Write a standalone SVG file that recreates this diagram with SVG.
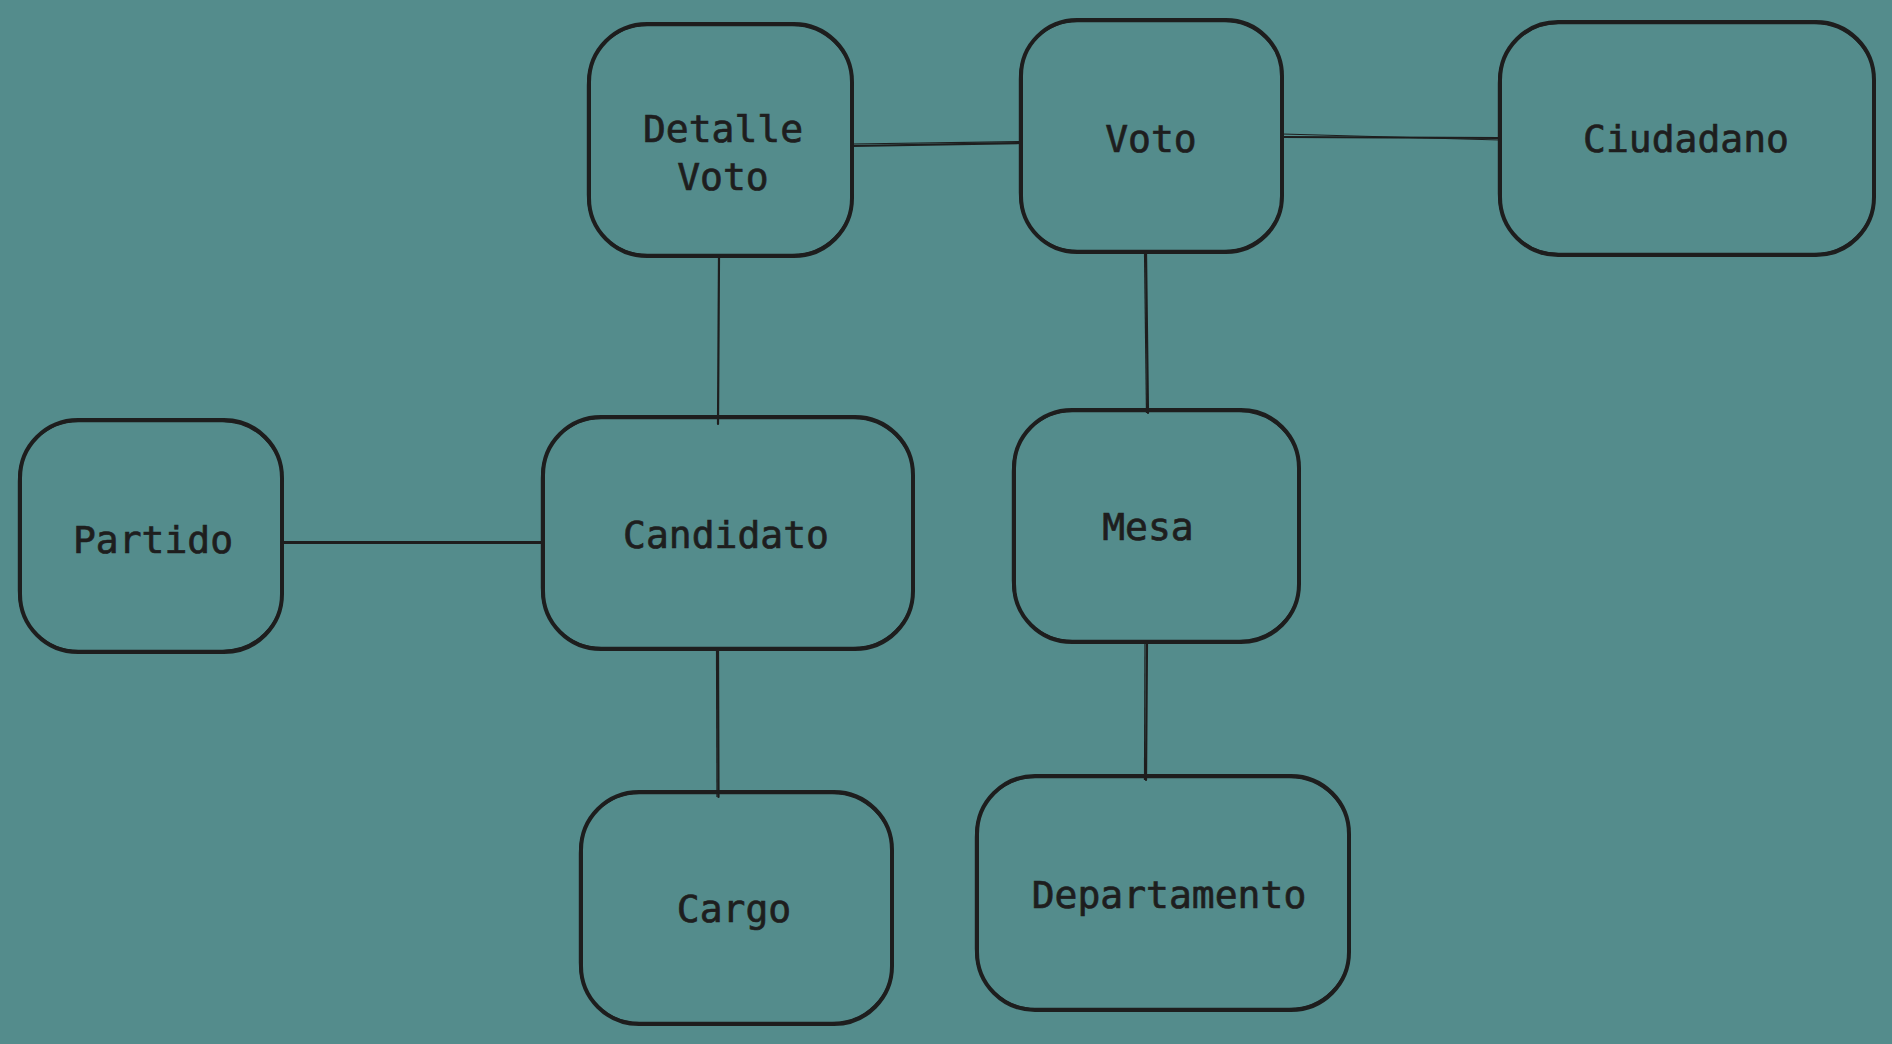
<svg xmlns="http://www.w3.org/2000/svg" width="1892" height="1044" viewBox="0 0 1892 1044">
<style>
.box{fill:none;stroke:#1e1e1e;stroke-width:4;stroke-linejoin:round}
.box2{fill:none;stroke:#1e1e1e;stroke-width:1.4}
.lbl{font-family:"DejaVu Sans Mono","Liberation Mono",monospace;font-size:38px;fill:#1e1e1e;stroke:#1e1e1e;stroke-width:0.7;text-anchor:middle}
.edge{stroke:#1e1e1e;stroke-width:2.2;fill:none;stroke-linecap:round}
.edge2{stroke:#1e1e1e;stroke-width:1.2;fill:none}
</style>
<rect x="0" y="0" width="1892" height="1044" fill="#548c8c"/>
<g id="connectors">
  <path class="edge" d="M852 146 L1022 143"/><path class="edge2" d="M852 144 L1022 141.5"/>
  <path class="edge" d="M1282 137 L1500 138"/><path class="edge2" d="M1282 134 L1500 140"/>
  <path class="edge" d="M719 256 L718 424"/>
  <path class="edge" d="M1146 252 L1148 413"/><path class="edge2" d="M1144.5 252 L1146.5 413"/>
  <path class="edge" d="M282 543 L543 543"/><path class="edge2" d="M280 541.5 L543 541.5"/>
  <path class="edge" d="M718 649 L718.5 797"/><path class="edge2" d="M716.5 649 L717 797"/>
  <path class="edge" d="M1147 642 L1146 780"/><path class="edge2" d="M1145 642 L1144.5 780"/>
</g>
<g id="detalle-voto">
  <rect class="box" x="589" y="24" width="263" height="232" rx="58"/>
  <rect class="box2" x="587.5" y="25.5" width="265" height="229" rx="60"/>
  <text class="lbl" x="723" y="142">Detalle</text>
  <text class="lbl" x="723" y="190">Voto</text>
</g>
<g id="voto">
  <rect class="box" x="1021" y="20" width="261" height="232" rx="56"/>
  <rect class="box2" x="1019.5" y="21.5" width="263" height="229" rx="58"/>
  <text class="lbl" x="1151" y="152">Voto</text>
</g>
<g id="ciudadano">
  <rect class="box" x="1500" y="22" width="374" height="233" rx="58"/>
  <rect class="box2" x="1498.5" y="23.5" width="376" height="230" rx="60"/>
  <text class="lbl" x="1686" y="152">Ciudadano</text>
</g>
<g id="partido">
  <rect class="box" x="20" y="420" width="262" height="232" rx="58"/>
  <rect class="box2" x="18.5" y="421.5" width="264" height="229" rx="60"/>
  <text class="lbl" x="153" y="553">Partido</text>
</g>
<g id="candidato">
  <rect class="box" x="543" y="417" width="370" height="232" rx="58"/>
  <rect class="box2" x="541.5" y="418.5" width="372" height="229" rx="60"/>
  <text class="lbl" x="726" y="548">Candidato</text>
</g>
<g id="mesa">
  <rect class="box" x="1014" y="410" width="285" height="232" rx="58"/>
  <rect class="box2" x="1012.5" y="411.5" width="287" height="229" rx="60"/>
  <text class="lbl" x="1148" y="540">Mesa</text>
</g>
<g id="cargo">
  <rect class="box" x="581" y="792" width="311" height="232" rx="58"/>
  <rect class="box2" x="579.5" y="793.5" width="313" height="229" rx="60"/>
  <text class="lbl" x="734" y="922">Cargo</text>
</g>
<g id="departamento">
  <rect class="box" x="977" y="776" width="372" height="234" rx="58"/>
  <rect class="box2" x="975.5" y="777.5" width="374" height="231" rx="60"/>
  <text class="lbl" x="1169" y="908">Departamento</text>
</g>
</svg>
